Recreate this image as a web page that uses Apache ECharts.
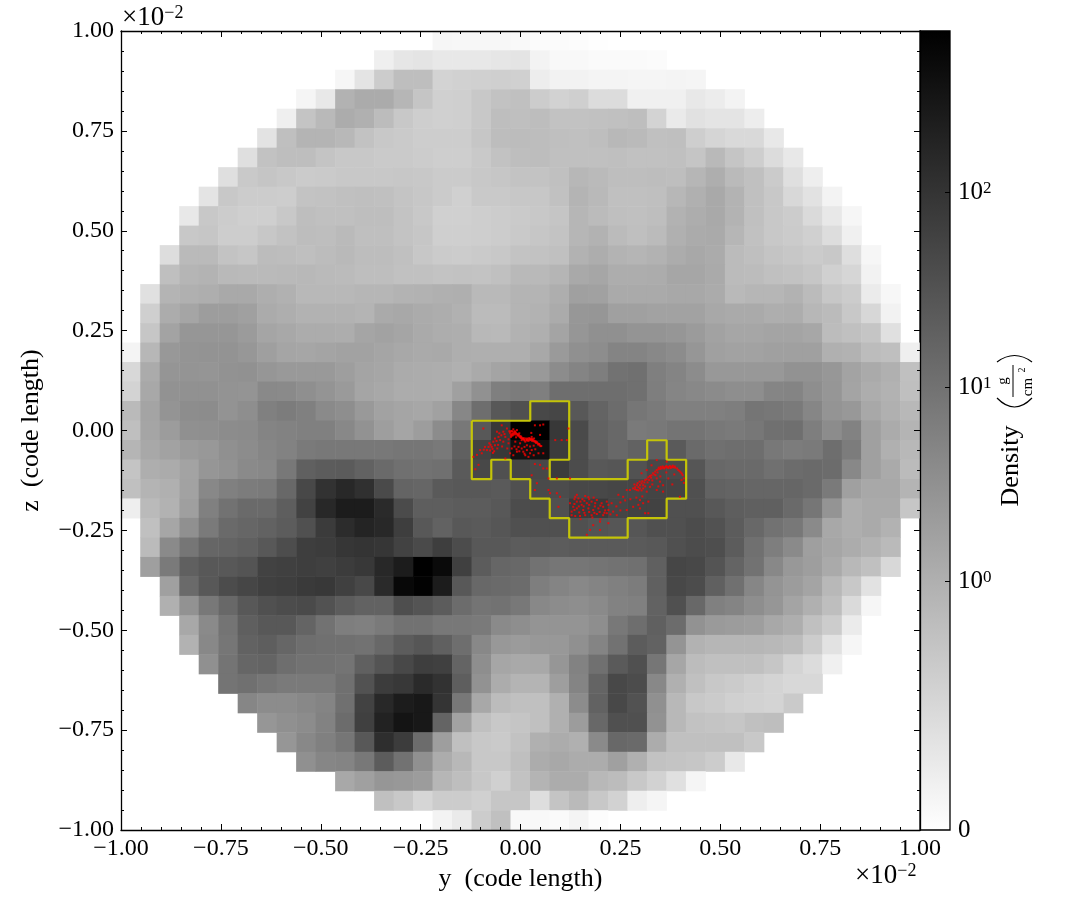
<!DOCTYPE html>
<html><head><meta charset="utf-8">
<style>html,body{margin:0;padding:0;background:#fff}#c{width:1085px;height:920px}</style>
<script src="https://cdn.jsdelivr.net/npm/echarts@6/dist/echarts.min.js"></script>
</head><body><div id="c"></div>
<script>
// Shade: 0 = black (densest), 255 = white (empty). rowStart = first column of each row.
const rowStart=[16,13,11,9,8,7,6,5,4,3,3,2,2,1,1,1,0,0,0,0,0,0,0,0,0,1,1,1,2,2,3,3,4,5,6,7,8,9,11,13,16];
const row00=[0xf6,0xf7,0xf7,0xf7,0xf9,0xfb,0xfb,0xfc,0xfe];
const row01=[0xef,0xe6,0xe4,0xe8,0xe8,0xe8,0xe6,0xe4,0xf3,0xf8,0xf8,0xfa,0xfa,0xfa,0xfb];
const row02=[0xf6,0xe4,0xcc,0xbe,0xbe,0xd3,0xd1,0xd0,0xcf,0xd0,0xed,0xf2,0xf2,0xf4,0xf4,0xf5,0xf5,0xf4,0xf5];
const row03=[0xf5,0xe8,0xb2,0xab,0xab,0xb6,0xc5,0xd0,0xcf,0xc8,0xc2,0xc0,0xcc,0xd2,0xcf,0xdc,0xdc,0xf0,0xf0,0xf0,0xe8,0xec,0xf3];
const row04=[0xef,0xc4,0xb9,0xac,0xb0,0xbc,0xc8,0xce,0xd0,0xcf,0xc8,0xbe,0xbf,0xbd,0xc2,0xc2,0xc1,0xc0,0xbe,0xd3,0xea,0xe1,0xe4,0xe4,0xed];
const row05=[0xe3,0xbf,0xb4,0xb4,0xb8,0xc2,0xc8,0xca,0xcd,0xcd,0xcd,0xc6,0xbd,0xbc,0xbd,0xbf,0xc0,0xbe,0xb8,0xba,0xc0,0xbf,0xce,0xd5,0xd9,0xd9,0xe8];
const row06=[0xdf,0xc2,0xbe,0xbe,0xc4,0xc8,0xc8,0xca,0xca,0xcc,0xce,0xce,0xc9,0xc2,0xbe,0xbd,0xc0,0xc0,0xc0,0xbf,0xc1,0xc1,0xc0,0xc5,0xb9,0xc5,0xce,0xdc,0xe8];
const row07=[0xdf,0xc9,0xc5,0xc8,0xcb,0xca,0xc8,0xc8,0xc8,0xc7,0xc8,0xcb,0xcb,0xc8,0xc6,0xc3,0xc3,0xc0,0xb7,0xba,0xbe,0xbe,0xbd,0xbe,0xb6,0xae,0xba,0xc0,0xcb,0xdf,0xee];
const row08=[0xe4,0xc8,0xcc,0xcc,0xcd,0xc3,0xc2,0xc0,0xbf,0xc0,0xc4,0xc7,0xcb,0xd0,0xc9,0xc9,0xc7,0xc7,0xc1,0xb4,0xb9,0xc0,0xc0,0xbf,0xb7,0xb0,0xa9,0xb3,0xc0,0xc8,0xd8,0xe2,0xf3];
const row09=[0xe8,0xc8,0xcc,0xcf,0xcf,0xc8,0xbe,0xc0,0xc0,0xbe,0xbe,0xc3,0xc8,0xd0,0xd0,0xce,0xcc,0xca,0xc8,0xc5,0xb6,0xbb,0xbf,0xc0,0xbe,0xb2,0xad,0xa9,0xb3,0xc0,0xc8,0xcc,0xda,0xe8,0xf6];
const row10=[0xc8,0xc6,0xcd,0xcd,0xc7,0xc2,0xbd,0xbe,0xba,0xbf,0xbf,0xc3,0xc6,0xcf,0xcf,0xce,0xcc,0xc9,0xc6,0xc3,0xb6,0xb2,0xbb,0xbf,0xbb,0xb0,0xab,0xaa,0xb6,0xc1,0xc8,0xcb,0xd0,0xdd,0xf0];
const row11=[0xdd,0xba,0xba,0xc3,0xc6,0xbc,0xbd,0xbf,0xbc,0xb9,0xbd,0xbd,0xc0,0xc7,0xcb,0xcc,0xca,0xc8,0xc3,0xc2,0xc0,0xb2,0xad,0xb3,0xb5,0xb2,0xac,0xa8,0xab,0xbb,0xbf,0xc4,0xc7,0xcb,0xc8,0xde,0xf6];
const row12=[0xbf,0xb5,0xb3,0xb9,0xba,0xba,0xb9,0xb8,0xba,0xbb,0xbe,0xbe,0xc1,0xc1,0xc3,0xc2,0xc3,0xc0,0xb9,0xb9,0xb5,0xa9,0xa6,0xad,0xad,0xac,0xa6,0xa6,0xaa,0xbb,0xbc,0xc0,0xc2,0xc6,0xd0,0xd6,0xf2];
const row13=[0xe0,0xb4,0xb0,0xae,0xa9,0xa9,0xae,0xb1,0xb8,0xb8,0xb8,0xb6,0xb6,0xb3,0xb2,0xb0,0xaf,0xb9,0xb9,0xb4,0xb4,0xae,0xa0,0xa1,0xaa,0xaa,0xaa,0xa8,0xa8,0xab,0xb9,0xb6,0xb6,0xb2,0xbb,0xc7,0xcc,0xeb,0xf7];
const row14=[0xcf,0xac,0xa5,0x9d,0x9d,0xa0,0xab,0xae,0xb2,0xb2,0xb2,0xb4,0xaa,0xa8,0xab,0xad,0xb1,0xbb,0xbb,0xb4,0xb2,0xab,0x97,0x96,0xa0,0xa0,0xa2,0xa2,0xa2,0xa8,0xaa,0xaa,0xae,0xad,0xb7,0xbb,0xc8,0xd7,0xf2];
const row15=[0xc6,0xa3,0x96,0x96,0x96,0x9b,0xa5,0xa8,0xac,0xac,0xad,0xa5,0xa2,0xa5,0xaa,0xad,0xae,0xb8,0xb9,0xb2,0xaf,0xa4,0x96,0x90,0x90,0x94,0x94,0x96,0x9b,0xa2,0xa6,0xa6,0xa4,0xa4,0xa7,0xbc,0xc0,0xc5,0xe0];
const row16=[0xf4,0xb7,0x98,0x94,0x93,0x93,0x97,0x9f,0xa5,0xa6,0xa4,0xa2,0xa2,0xa5,0xa8,0xaa,0xa9,0xae,0xaf,0xaf,0xaf,0xa8,0x9a,0x90,0x8d,0x84,0x84,0x88,0x8c,0x96,0xa0,0xa2,0xa2,0xa0,0xa0,0xa0,0xb0,0xb2,0xbc,0xbf,0xef];
const row17=[0xd8,0xab,0x95,0x94,0x95,0x92,0x91,0x96,0x99,0x99,0x99,0x9e,0xa4,0xa6,0xab,0xac,0xad,0xb0,0xaa,0xa4,0xa0,0x99,0x8c,0x84,0x7e,0x72,0x70,0x7f,0x84,0x8c,0x98,0x98,0x98,0x98,0x92,0x92,0x97,0xa3,0xaa,0xb0,0xc0];
const row18=[0xd3,0xa8,0x92,0x91,0x91,0x93,0x94,0x89,0x8a,0x8f,0x94,0x9a,0xa5,0xa8,0xac,0xac,0xad,0xa0,0x91,0x7f,0x7c,0x7f,0x6e,0x6e,0x6e,0x6e,0x70,0x7e,0x85,0x88,0x8b,0x8e,0x8e,0x85,0x84,0x8e,0x96,0xa4,0xad,0xb2,0xbf];
const row19=[0xba,0xa4,0x94,0x8d,0x8c,0x93,0x8e,0x80,0x7c,0x80,0x8a,0x8e,0x99,0xa2,0xa5,0xa7,0xa1,0x87,0x6e,0x58,0x50,0x48,0x46,0x58,0x64,0x6c,0x76,0x7a,0x80,0x80,0x80,0x7e,0x75,0x77,0x7a,0x86,0x94,0x98,0xa8,0xb0,0xb8];
const row20=[0xbf,0xa5,0x9c,0x90,0x8f,0x8c,0x8b,0x84,0x82,0x80,0x80,0x88,0x92,0x9e,0xa5,0x9d,0x8c,0x78,0x58,0x38,0x00,0x00,0x38,0x4a,0x62,0x68,0x7a,0x78,0x74,0x74,0x78,0x7a,0x77,0x70,0x6f,0x7e,0x8c,0x82,0xa0,0xab,0xb4];
const row21=[0xb5,0xa8,0xa2,0x9b,0x98,0x90,0x8c,0x86,0x82,0x7a,0x78,0x78,0x78,0x78,0x76,0x76,0x79,0x60,0x42,0x38,0x10,0x10,0x3c,0x4c,0x60,0x68,0x62,0x5e,0x5a,0x6a,0x70,0x6e,0x6e,0x78,0x7c,0x7a,0x6e,0x7c,0xa0,0xb0,0xb8];
const row22=[0xc4,0xae,0xab,0xa3,0x96,0x92,0x8a,0x88,0x78,0x60,0x5c,0x5b,0x62,0x6a,0x70,0x72,0x70,0x5a,0x48,0x50,0x45,0x48,0x3c,0x4c,0x58,0x56,0x52,0x48,0x4a,0x56,0x68,0x6a,0x6a,0x70,0x6c,0x6a,0x6c,0x88,0xa0,0xaa,0xbb];
const row23=[0xc0,0xb4,0xb0,0xa2,0x88,0x80,0x7c,0x7a,0x68,0x48,0x32,0x28,0x30,0x4a,0x64,0x66,0x5a,0x58,0x58,0x5a,0x50,0x4a,0x4c,0x48,0x48,0x46,0x46,0x44,0x44,0x50,0x62,0x64,0x66,0x66,0x66,0x6a,0x7a,0xa0,0xa8,0xa8,0xb4];
const row24=[0xee,0xba,0xb2,0x9f,0x80,0x72,0x6a,0x6a,0x5e,0x42,0x28,0x1c,0x1c,0x2a,0x4b,0x5e,0x5e,0x5c,0x5c,0x58,0x4c,0x4b,0x50,0x3a,0x3a,0x45,0x42,0x42,0x50,0x50,0x58,0x5e,0x60,0x60,0x6a,0x76,0x94,0xae,0xaa,0xaa,0xc6];
const row25=[0xc0,0xa6,0x90,0x7a,0x6a,0x66,0x62,0x5c,0x50,0x3b,0x2c,0x24,0x28,0x3e,0x58,0x62,0x58,0x5a,0x56,0x50,0x50,0x50,0x50,0x54,0x56,0x56,0x50,0x50,0x4c,0x52,0x5c,0x68,0x72,0x78,0x8a,0xa8,0xae,0xaa,0xb2];
const row26=[0xbb,0x8a,0x76,0x66,0x64,0x60,0x58,0x4d,0x3e,0x3c,0x36,0x34,0x36,0x42,0x4a,0x3e,0x4c,0x58,0x58,0x5c,0x5a,0x5c,0x5a,0x5a,0x5a,0x5a,0x58,0x50,0x4c,0x4e,0x5c,0x70,0x7e,0x8a,0x9f,0xa6,0xac,0xb2,0xba];
const row27=[0x9f,0x7a,0x60,0x58,0x58,0x54,0x42,0x40,0x3e,0x40,0x3c,0x38,0x28,0x1c,0x00,0x0a,0x40,0x5c,0x66,0x68,0x72,0x76,0x76,0x74,0x72,0x70,0x60,0x46,0x48,0x54,0x64,0x72,0x88,0x98,0x9e,0xaa,0xb8,0xc0,0xd8];
const row28=[0xa0,0x6a,0x58,0x4c,0x46,0x40,0x3e,0x3a,0x38,0x40,0x48,0x2a,0x08,0x02,0x1c,0x58,0x68,0x6a,0x6c,0x7e,0x84,0x88,0x84,0x80,0x7c,0x60,0x48,0x4c,0x60,0x70,0x86,0x94,0x9c,0xa4,0xb8,0xc8,0xe2];
const row29=[0xb0,0x92,0x78,0x68,0x58,0x50,0x4c,0x4a,0x52,0x5c,0x62,0x62,0x4e,0x54,0x5c,0x6c,0x74,0x72,0x78,0x88,0x8c,0x8e,0x8a,0x82,0x80,0x62,0x50,0x68,0x80,0x84,0x8e,0x96,0xa4,0xb0,0xbe,0xda,0xf6];
const row30=[0xa8,0x8a,0x74,0x5f,0x58,0x58,0x64,0x72,0x7e,0x80,0x7a,0x72,0x72,0x78,0x78,0x7a,0x8a,0x8e,0x94,0x94,0x94,0x8e,0x78,0x6e,0x60,0x6c,0x92,0x9a,0x9c,0x9e,0xa8,0xae,0xc0,0xcc,0xeb];
const row31=[0xb2,0x88,0x76,0x62,0x5e,0x66,0x6e,0x70,0x70,0x72,0x68,0x5c,0x56,0x60,0x6e,0x88,0x98,0x9b,0x98,0x98,0x90,0x84,0x72,0x5c,0x62,0x94,0xb2,0xb6,0xb6,0xb6,0xb8,0xbc,0xcc,0xe2,0xf6];
const row32=[0x90,0x74,0x66,0x64,0x6e,0x72,0x72,0x74,0x60,0x54,0x48,0x3e,0x40,0x64,0x8e,0xa6,0xa9,0xa8,0x96,0x82,0x70,0x5a,0x50,0x76,0xa6,0xbc,0xc0,0xc0,0xc0,0xc6,0xd4,0xdc,0xf0];
const row33=[0x74,0x70,0x76,0x7a,0x7a,0x7a,0x70,0x52,0x3c,0x38,0x2a,0x32,0x5e,0x92,0xac,0xb4,0xb4,0x9e,0x84,0x64,0x48,0x4c,0x88,0xb0,0xc0,0xc8,0xcb,0xd0,0xd4,0xd8,0xd8];
const row34=[0x86,0x8c,0x8c,0x88,0x84,0x70,0x42,0x28,0x1c,0x18,0x34,0x78,0xa8,0xbc,0xc0,0xc0,0xb0,0x8c,0x62,0x48,0x52,0x90,0xb8,0xc8,0xcb,0xd0,0xd2,0xd4,0xca];
const row35=[0x96,0x90,0x8c,0x82,0x6c,0x40,0x22,0x14,0x18,0x64,0xa2,0xc0,0xc8,0xc5,0xc0,0xb0,0x9c,0x68,0x50,0x50,0x92,0xb8,0xc2,0xc4,0xc6,0xc0,0xbe];
const row36=[0x96,0x88,0x80,0x76,0x58,0x2e,0x3c,0x6c,0x9e,0xc0,0xc8,0xca,0xc2,0xb0,0xac,0xb0,0x8a,0x68,0x6a,0xac,0xc0,0xc0,0xc0,0xc0,0xc8];
const row37=[0x90,0x86,0x84,0x78,0x5c,0x72,0x90,0xac,0xb8,0xc8,0xc8,0xbf,0xac,0xa8,0xac,0xac,0xa0,0xb0,0xc2,0xc4,0xc6,0xcc,0xe8];
const row38=[0xa8,0xa0,0x96,0x98,0x9c,0xb6,0xbe,0xc8,0xd0,0xc2,0xb4,0xac,0xac,0xb8,0xbc,0xc8,0xd2,0xe0,0xf5];
const row39=[0xc0,0xc8,0xd6,0xcc,0xcc,0xd0,0xc6,0xc6,0xde,0xc4,0xba,0xc8,0xd2,0xee,0xf5];
const row40=[0xf3,0xea,0xcc,0xc0,0xf8,0xf8,0xfa,0xf4,0xfc];
const rows=[row00,row01,row02,row03,row04,row05,row06,row07,row08,row09,row10,row11,row12,row13,row14,row15,row16,row17,row18,row19,row20,row21,row22,row23,row24,row25,row26,row27,row28,row29,row30,row31,row32,row33,row34,row35,row36,row37,row38,row39,row40];

// Clump contour, as cell-edge indices (column edge, row edge)
const contourEdges=[[18,20],[21,20],[21,19],[23,19],[23,22],[22,22],[22,23],[26,23],[26,22],[27,22],[27,21],[28,21],[28,22],[29,22],[29,24],[28,24],[28,25],[26,25],[26,26],[23,26],[23,25],[22,25],[22,24],[21,24],[21,23],[20,23],[20,22],[19,22],[19,23],[18,23],[18,20]];

// Star particles (y, z) in thousandths of the axis unit
const starsRidgeA=[[-22,-1],[-13,-3],[-18,-9],[-8,-11],[-1,-17],[7,-21],[16,-22],[24,-21],[31,-24],[37,-29],[46,-34],[52,-39],[-26,-6],[-24,-16],[-9,1],[3,-24],[12,-28],[20,-26],[28,-16],[27,-6],[34,-20],[-18,3],[-3,-7],[-11,-17],[-20,-3],[-16,-6],[-14,-10],[-10,-8],[-6,-13],[-3,-15],[1,-19],[4,-19],[9,-23],[13,-20],[18,-20],[21,-23],[26,-23],[29,-26],[33,-27],[39,-31],[43,-32],[48,-37],[-25,-2],[-21,-8],[-19,-12],[-15,-2],[-12,-6],[-7,-9],[-4,-11],[0,-14],[2,-16],[5,-21],[8,-19],[10,-25],[15,-24],[17,-25],[22,-19],[25,-24],[28,-21],[30,-22],[35,-26],[38,-27],[41,-29],[44,-35],[47,-34],[50,-39],[-24,-11],[-22,-13],[-28,-2]];
const starsLeft=[[-47,13],[-43,-3],[-53,-7],[-64,-20],[-68,-28],[-43,-28],[-72,-41],[-80,-41],[-84,-49],[-69,-56],[-93,5],[-89,-41],[-101,-49],[-97,-57],[-109,-61],[-118,-66],[-105,-86],[-113,-97],[-38,-70],[-59,-3],[36,13],[49,13],[57,15],[16,-49],[7,-53],[20,-66],[28,-49],[-1,-32],[3,-45],[45,-57],[57,-57],[-26,-57],[-5,-41],[49,-11],[87,-24],[103,-24],[116,-24],[120,5],[49,-86],[36,-84],[57,-95],[66,-95],[28,-112],[41,-132],[36,-149],[70,-120],[91,-120],[124,-120],[70,-149],[74,-157],[91,-157],[99,-166],[137,-166],[141,-161],[95,-191],[124,-182],[-78,-32],[-64,-37],[-58,-45],[-51,-24],[-34,5],[-38,-16],[16,-37],[12,-62],[24,-57],[-13,-28],[-22,-45],[-9,-53],[-75,-36],[-60,-26],[-55,-16],[-70,-46],[-48,-12],[-40,-9],[-66,-52],[-92,-48],[-76,-50],[-56,-36],[-46,-40],[-33,-45],[-15,-40],[-10,-47],[-3,-52],[10,-41],[24,-40],[33,-38],[37,-47],[10,-58],[33,-62],[-18,-62],[-30,-32],[-30,-22]];
const starsMiddle=[[162,-164],[170,-167],[141,-178],[132,-191],[128,-203],[128,-212],[137,-214],[149,-214],[162,-212],[178,-212],[191,-209],[207,-212],[216,-207],[141,-195],[153,-186],[166,-182],[178,-178],[191,-174],[203,-182],[216,-178],[157,-199],[170,-195],[182,-199],[195,-195],[207,-191],[220,-186],[228,-182],[232,-203],[241,-212],[220,-199],[245,-161],[257,-166],[266,-199],[282,-191],[295,-186],[307,-182],[320,-178],[299,-195],[312,-207],[320,-207],[182,-237],[199,-228],[174,-249],[199,-249],[166,-261],[220,-232],[274,-149],[266,-149],[135,-172],[145,-170],[155,-172],[150,-178],[160,-176],[172,-172],[183,-168],[187,-182],[135,-184],[146,-190],[158,-190],[172,-186],[186,-190],[200,-188],[212,-200],[135,-199],[147,-205],[160,-206],[172,-204],[185,-206],[198,-204],[210,-206],[225,-210],[240,-190],[250,-180],[262,-175],[275,-172],[290,-168],[305,-165],[250,-200],[180,-218],[150,-222],[200,-222]];
const starsRidgeB=[[282,-145],[291,-137],[299,-137],[307,-145],[291,-149],[303,-132],[312,-124],[320,-117],[328,-112],[337,-103],[345,-97],[353,-95],[362,-92],[370,-91],[378,-91],[387,-93],[395,-99],[401,-105],[406,-112],[409,-120],[409,-131],[341,-74],[366,-78],[328,-87],[316,-99],[341,-120],[349,-128],[357,-137],[324,-141],[316,-153],[341,-149],[299,-174],[399,-166],[403,-124],[357,-153],[303,-107],[287,-142],[295,-142],[299,-145],[287,-147],[307,-137],[316,-122],[324,-114],[332,-107],[341,-99],[349,-96],[357,-93],[366,-92],[374,-89],[382,-92],[285,-135],[293,-132],[298,-128],[305,-127],[310,-130],[295,-150],[303,-150],[312,-140],[318,-130],[322,-124],[327,-118],[330,-125],[335,-110],[338,-112],[343,-105],[346,-93],[351,-91],[356,-90],[360,-95],[365,-89],[370,-94],[376,-94],[381,-88],[386,-90],[392,-95],[398,-102],[404,-108],[330,-135],[345,-140],[370,-120],[380,-135],[385,-110],[365,-105],[350,-115]];

const colorbarPositions=[0,0.3113,0.5544,0.798];
const colorbarLabels=['0','{a|10}{b|0}','{a|10}{b|1}','{a|10}{b|2}'];

const FONT='"Liberation Serif",serif';
const cells=[];
rows.forEach((r,j)=>r.forEach((v,i)=>cells.push([rowStart[j]+i,j,v])));
const idx=Array.from({length:41},(_,i)=>i);
const fmt=v=>(v<0?'\u2212':'')+Math.abs(v).toFixed(2);
const LINE={show:true,onZero:false,lineStyle:{color:'#000',width:1.3}};
function valAxis(pos,labels,extra){
  return Object.assign({type:'value',position:pos,min:-1,max:1,interval:0.25,splitLine:{show:false},z:6,
    axisLine:LINE,
    axisTick:{show:true,inside:true,length:6,lineStyle:{color:'#000',width:1}},
    minorTick:{show:true,splitNumber:5,length:3,lineStyle:{color:'#000',width:1}},
    minorSplitLine:{show:false},
    axisLabel:{show:labels,fontFamily:FONT,fontSize:24,color:'#000',margin:7,formatter:fmt,showMinLabel:true,showMaxLabel:true,hideOverlap:false}},extra||{});
}
const NAME={fontFamily:FONT,fontSize:26,color:'#000'};
const chart=echarts.init(document.getElementById('c'),null,{renderer:'canvas'});
const supText=(x,y)=>({type:'text',x:x,y:y,z:10,style:{text:'{a|\u00d710}{b|\u22122}',fill:'#000',rich:{a:{fontFamily:FONT,fontSize:27,fill:'#000'},b:{fontFamily:FONT,fontSize:18,fill:'#000',verticalAlign:'top',padding:[0,0,6,0]}}}});
const rot=(text,x,y,size)=>({type:'text',x:x,y:y,rotation:Math.PI/2,z:10,style:{text:text,fontFamily:FONT,fontSize:size,fill:'#000',align:'center',verticalAlign:'middle'}});
const arc=(x1,y1,x2,y2,cx,cy)=>({type:'bezierCurve',z:10,shape:{x1:x1,y1:y1,x2:x2,y2:y2,cpx1:cx,cpy1:cy},style:{stroke:'#000',lineWidth:1.2,fill:'none'}});
chart.setOption({
  animation:false,
  backgroundColor:'#fff',
  textStyle:{fontFamily:FONT},
  grid:[
    {left:121,top:31,width:799,height:799,show:false},
    {left:121,top:31,width:799,height:799,show:false},
    {left:920,top:31,width:30,height:799,show:true,borderColor:'#000',borderWidth:1.3,
      backgroundColor:{type:'linear',x:0,y:0,x2:0,y2:1,colorStops:[{offset:0,color:'#000'},{offset:1,color:'#fff'}]}}
  ],
  xAxis:[
    {type:'category',gridIndex:0,data:idx,show:false},
    valAxis('bottom',true,{gridIndex:1,name:'y  (code length)',nameLocation:'middle',nameGap:36,nameTextStyle:NAME}),
    valAxis('top',false,{gridIndex:1}),
    {type:'value',gridIndex:2,min:0,max:1,show:false}
  ],
  yAxis:[
    {type:'category',gridIndex:0,data:idx,inverse:true,show:false},
    valAxis('left',true,{gridIndex:1,name:'z  (code length)',nameLocation:'middle',nameGap:77,nameTextStyle:NAME}),
    valAxis('right',false,{gridIndex:1}),
    {type:'value',gridIndex:2,position:'right',min:0,max:1,splitLine:{show:false},z:6,
      axisLine:{show:false,onZero:false},
      axisTick:{show:true,inside:true,length:5,customValues:colorbarPositions.slice(1),lineStyle:{color:'#000',width:1}},
      axisLabel:{show:true,margin:8,customValues:colorbarPositions,fontFamily:FONT,fontSize:25,color:'#000',
        formatter:v=>colorbarLabels[colorbarPositions.indexOf(v)],
        rich:{a:{fontFamily:FONT,fontSize:25,color:'#000'},b:{fontFamily:FONT,fontSize:17,color:'#000',verticalAlign:'top',padding:[0,0,6,0]}}}}
  ],
  visualMap:{show:false,type:'continuous',min:0,max:255,dimension:2,seriesIndex:0,inRange:{color:['#000','#fff']}},
  series:[
    {type:'heatmap',xAxisIndex:0,yAxisIndex:0,data:cells,progressive:0,silent:true,z:1},
    {type:'line',xAxisIndex:1,yAxisIndex:1,data:contourEdges.map(e=>[-1+2*e[0]/41,1-2*e[1]/41]),symbol:'none',silent:true,z:3,
      lineStyle:{color:'#c4c408',width:2.2},itemStyle:{color:'#c4c408'}},
    {type:'scatter',xAxisIndex:1,yAxisIndex:1,data:[].concat(starsRidgeA,starsLeft,starsMiddle,starsRidgeB).map(p=>[p[0]/1000,p[1]/1000]),
      symbol:'rect',symbolSize:2,silent:true,z:4,itemStyle:{color:'#ff0000'}}
  ],
  graphic:[
    supText(122,4),
    supText(855,862),
    rot('Density',1011,466,26),
    arc(997,398,1032,398,1014.5,416),
    arc(997,362,1032,362,1014.5,349),
    rot('g',1003,381,15),
    {type:'rect',x:1012.5,y:365,z:10,shape:{width:1,height:32},style:{fill:'#000'}},
    rot('cm',1028,387,15),
    rot('2',1022,370,10)
  ]
});
</script></body></html>
